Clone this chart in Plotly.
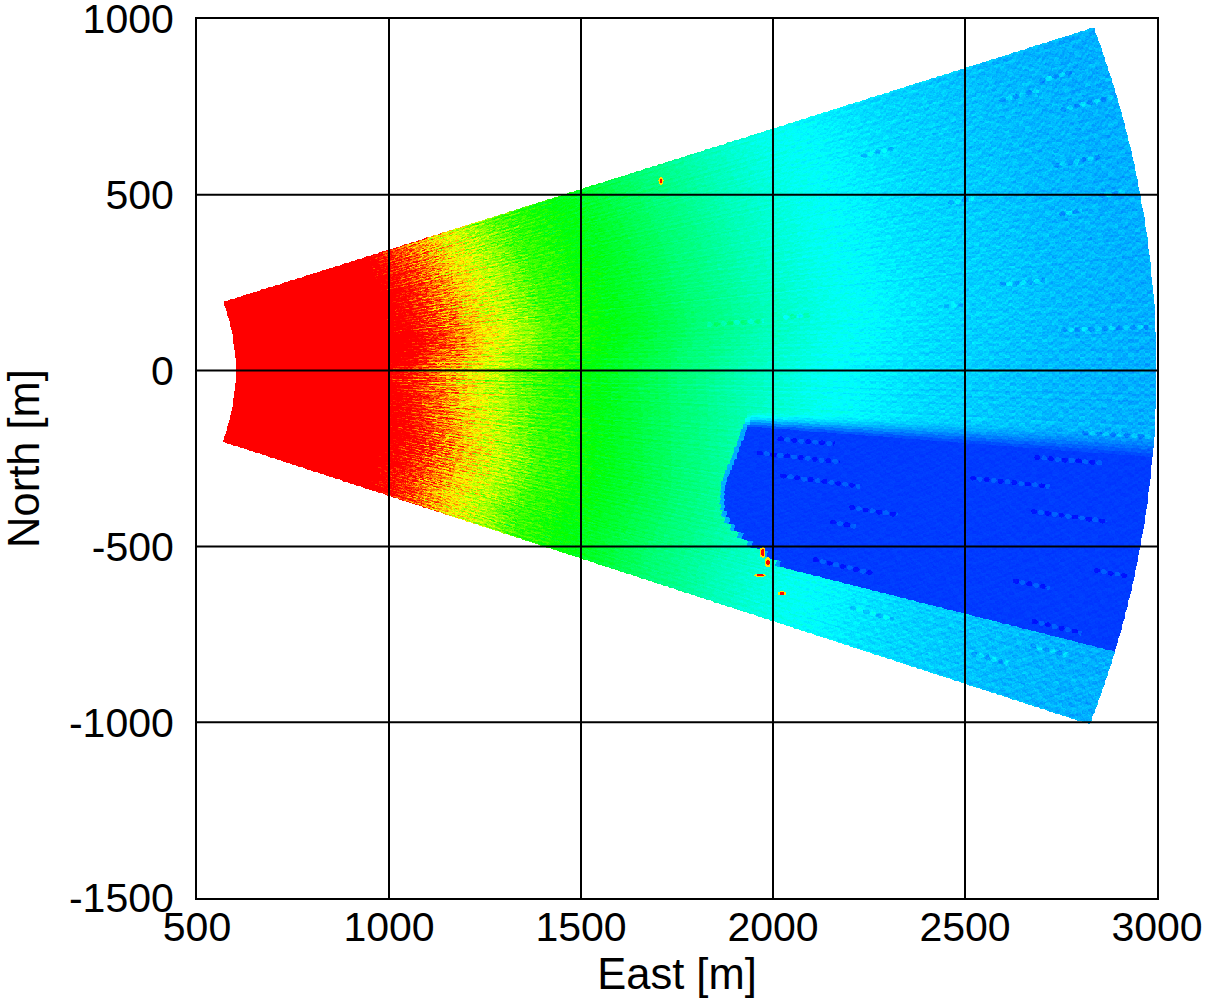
import numpy as np
import plotly.graph_objects as go

# Axis ticks
x_ticks = [500, 1000, 1500, 2000, 2500, 3000]
x_labels = ["500", "1000", "1500", "2000", "2500", "3000"]
y_ticks = [-1500, -1000, -500, 0, 500, 1000]
y_labels = ["-1500", "-1000", "-500", "0", "500", "1000"]

# Sector limits [m, deg]
r_min, r_max = 601, 2998
az_min, az_max = -19.6, 19.0

# Colour level per 25 m range bin, starting at 600 m
range_level = [1.4] * 16 + [
    1.10, 1.06, 1.02, .98, .94, .90, .86, .82, .78, .75, .72, .69, .66, .63, .60, .57, .55, .54, .53, .515,
    .50, .49, .48, .47, .46, .45, .44, .425, .415, .405, .39, .38, .375, .365, .355, .345, .335, .325, .315, .31,
    .30, .292, .285, .278, .27, .265, .26, .255, .25, .245, .24, .235, .23, .226, .222, .218, .215, .211, .208, .206,
    .204, .202, .20, .197, .194, .192, .19, .187, .185, .183, .181, .18, .178, .177, .176, .174, .173, .172, .172, .171, .171]

# Streak and texture strength per 100 m range bin, starting at 600 m
streak_gain = [0, 0, 0, 0, .10, .12, .09, .07, .04, .025, .02, .018, .016, .015, .015, .014, .013, .012, .012, .011, .01, .01, .01, .01, .01]
noise_gain = [0, 0, 0, 0, .09, .10, .08, .06, .045, .03, .02, .016, .014, .014, .016, .017, .019, .021, .023, .025, .026, .026, .026, .026, .026]

# How far the red front reaches (m) per 1 deg azimuth bin, from -20 deg
front_shift = [0, 0, -10, -5, 5, 5, 10, 15, 15, 15, 10, 5, 0, -5, -10, -10, -15, -20, -25, -25,
               -15, 0, 15, 25, 30, 25, 20, 10, 5, 5, 0, 0, -5, -10, -15, -20, -25, -30, -35, -40]

# Radial streak patterns (azimuth bins of 0.125 deg)
streak_a = [.2, -.7, .5, .9, -.3, -.9, .1, .6, -.5, .3, 1.0, -.2, -.8, .4, -.1, .7, -.6, -.4, .8, .0,
            -1.0, .3, .6, -.7, .2, .9, -.5, .1, -.3, .5, -.9, .4, .7, -.2, -.6, .8, .0, -.4, 1.0, -.8,
            .2, .5, -.3, -.7, .6, .1, -1.0, .9, -.1, .3, -.5, .7, -.9, .4, .0, .8, -.6, -.2, .5, -.4, .3]
streak_b = [-.4, .8, -.1, .3, -.9, .5, .6, -.7, .0, .9, -.3, -.5, .2, 1.0, -.8, .1, .4, -.6, .7,
            -.2, -1.0, .5, .3, -.4, .9, -.1, .6, -.7, .2, -.3, .8, -.9, .4, .0, -.5, .7, -.6]

# Texture tiles
tile_a = [[.3, -.8, .5, .1, -.4, .9, -.6], [-.9, .2, .7, -.3, .6, -.1, .4], [.6, -.5, -.2, .8, -.7, .3, .0],
          [-.1, .9, -.6, .4, .2, -.8, .5], [.7, -.3, .1, -.9, .5, .6, -.4], [-.5, .4, .8, -.2, -.7, .0, .9],
          [.2, -.7, -.4, .6, .3, -.5, -.1], [.9, .0, -.8, -.1, .7, .4, -.3], [-.6, .5, .3, -.5, -.2, .8, -.9],
          [.1, -.4, .6, .9, -.8, -.3, .7], [-.2, .8, -.9, .0, .4, .5, -.7]]
tile_b = [[-.6, .4, .9, -.2, .1, -.8, .5, .3, -.4], [.7, -.1, -.5, .6, -.9, .2, .0, -.7, .8],
          [.1, -.9, .3, .8, -.3, .5, -.6, .4, -.2], [-.4, .6, -.7, .0, .9, -.1, .2, -.8, .5],
          [.9, -.3, .2, -.6, .4, .7, -.9, .1, -.5], [-.8, .5, -.2, .3, -.7, .0, .6, -.4, 1.0],
          [.4, .0, .7, -.9, .5, -.5, .3, .8, -.1], [-.3, .8, -.6, .2, -.1, .9, -.7, -.2, .4],
          [.5, -.7, .1, .4, .8, -.4, -.3, .6, -.9], [-.1, .3, -.8, .9, -.5, .2, .7, -.6, .0],
          [.8, -.5, .4, -.3, .0, -.9, .5, .1, .6], [-.7, .1, .6, -.4, .3, .8, -.2, -.9, .2],
          [.2, -.6, -.1, .7, -.8, .4, .9, -.5, -.3]]

# Dark shadow sector: azimuth limits, blend weights and front range per 0.5 deg bin from -15.5 deg
shadow_level = .058
shadow_az = [-15.45, -4.7, -4.5, -4.3, -4.1, -3.9, -3.7, -3.5]
shadow_weight = [1.0, .85, .7, .52, .36, .22, .1]
shadow_front = [2080, 2040, 1995, 1965, 1940, 1922, 1910, 1902, 1898, 1895, 1893, 1892, 1894,
                1897, 1901, 1905, 1909, 1912, 1916, 1920, 1924, 1928, 1932, 1936, 1940]

# Dotted radial features: azimuth [deg], start and end range [m]
dash_az = [-5.5, -6.8, -6.9, -5.25, -8.4, -8.5, -10.0, -11.3, -11.3, -12.8, -14.9, -14.3,
           16.5, 17.0, 15.1, 12.05, 9.2, 15.3, 2.4, -3.6, -17.7, 9.9, 5.4, 11.0, -17.0, -16.3,
           4.1, 4.3, 4.3]
dash_r0 = [2020, 1970, 2530, 2690, 2040, 2700, 2230, 2190, 2890, 2690, 2765, 2170,
           2700, 2815, 2845, 2790, 2780, 2310, 2750, 2810, 2640, 2890, 2600, 2500, 2300, 2780,
           1830, 2030, 2450]
dash_r1 = [2170, 2190, 2740, 2870, 2250, 2900, 2360, 2260, 2980, 2790, 2900, 2330,
           2810, 2905, 2995, 2915, 2840, 2400, 2980, 2990, 2740, 2960, 2720, 2570, 2420, 2880,
           1980, 2100, 2500]

# Small bright returns: east, north [m] and half sizes
speck_x = [1708, 1973, 1986, 1966, 2023, 1129, 1140]
speck_y = [540, -517, -545, -582, -633, 20, 20]
speck_w = [6, 7, 8, 14, 11, 5, 5]
speck_h = [12, 16, 14, 6, 6, 3, 3]

# Display grid
x = np.arange(500, 3001, 2.0)
y = np.arange(-1500, 1001, 2.0)
X, Y = np.meshgrid(x, y)
R = np.hypot(X, Y)
AZ = np.degrees(np.arctan2(Y, X))

az_bin = np.clip(((AZ + 20) // 1).astype(int), 0, len(front_shift) - 1)
R_eff = R - np.array(front_shift)[az_bin]
ri_eff = np.clip(((R_eff - 600) // 25).astype(int), 0, len(range_level) - 1)
V = np.array(range_level)[ri_eff]
hi = np.clip(((R - 600) // 100).astype(int), 0, len(streak_gain) - 1)

ia = ((AZ + 30) / .125).astype(int)
streak = .7 * np.array(streak_a)[ia % len(streak_a)] + .5 * np.array(streak_b)[ia % len(streak_b)]
ta = np.array(tile_a)
tb = np.array(tile_b)
fine = ta[(R // 5).astype(int) % ta.shape[0], ((AZ + 30) / .09).astype(int) % ta.shape[1]]
coarse = tb[(R // 14).astype(int) % tb.shape[0], ((AZ + 30) / .19).astype(int) % tb.shape[1]]
tex = .6 * fine + .7 * coarse
V = V + streak * np.array(streak_gain)[hi] + tex * np.array(noise_gain)[hi]
V = np.where(R < 1000, 1.4, V)

# Shadow
sb = np.clip(np.searchsorted(shadow_az, AZ, side="right") - 1, 0, len(shadow_weight) - 1)
W = np.array(shadow_weight)[sb]
W = np.where((AZ < shadow_az[0]) | (AZ >= shadow_az[-1]), 0, W)
fi = np.clip(((AZ + 15.5) // .5).astype(int), 0, len(shadow_front) - 1)
front = np.array(shadow_front)[fi]
W = np.where(R < front, 0, np.where(R < front + 12, W * .6, W))
V = V * (1 - W) + (shadow_level + .5 * tex * .016) * W

# Dotted features: a chain of round blobs, alternately dark and light
for a, r0, r1 in zip(dash_az, dash_r0, dash_r1):
    k = np.floor((R - r0) / 18)
    rc = r0 + (k + .5) * 18
    d = (((R - rc) / 8) ** 2 + ((AZ - a) * np.radians(1) * R / 7) ** 2) < 1
    m = d & (R >= r0) & (R <= r1)
    delta = np.where(k.astype(int) % 2 == 0, -.04, .035)
    V = np.where(m, V + delta, V)

# Specks
for sx, sy, sw, sh in zip(speck_x, speck_y, speck_w, speck_h):
    e = ((X - sx) / sw) ** 2 + ((Y - sy) / sh) ** 2
    V = np.where(e <= 1, .78, V)
    V = np.where(e <= .35, 1.0, V)

inside = (R >= r_min) & (R <= r_max) & (AZ >= az_min) & (AZ <= az_max)
Z = np.where(inside, np.clip(V, 0, 1), np.nan).astype(np.float32)

fig = go.Figure(go.Heatmap(
    x=x, y=y, z=Z, zmin=0, zmax=1, showscale=False, hoverinfo="skip",
    colorscale=[[0, "rgb(0,0,255)"], [.25, "rgb(0,255,255)"], [.5, "rgb(0,255,0)"],
                [.75, "rgb(255,255,0)"], [1, "rgb(255,0,0)"]],
))

# Grid is drawn above the image, at the tick positions
for t in x_ticks[1:-1]:
    fig.add_shape(type="line", xref="x", yref="paper", x0=t, x1=t, y0=0, y1=1,
                  line=dict(color="black", width=2), layer="above")
for t in y_ticks[1:-1]:
    fig.add_shape(type="line", xref="paper", yref="y", x0=0, x1=1, y0=t, y1=t,
                  line=dict(color="black", width=2), layer="above")

tick_font = dict(family="Liberation Sans", size=41, color="black")
title_font = dict(family="Liberation Sans", size=43.5, color="black")
axis = dict(showgrid=False, zeroline=False, showline=True, mirror=True, linecolor="black", linewidth=2,
            ticks="outside", tickcolor="rgba(0,0,0,0)", tickfont=tick_font, ticklabeloverflow="allow",
            automargin=False)
fig.update_xaxes(range=[500, 3000], tickvals=x_ticks, ticktext=x_labels, ticklen=0, ticklabelstandoff=-8,
                 title=dict(text="East [m]", font=title_font, standoff=1), **axis)
fig.update_yaxes(range=[-1500, 1000], tickvals=y_ticks, ticktext=y_labels, ticklen=13,
                 title=dict(text="North [m]", font=title_font, standoff=18), **axis)
fig.update_layout(width=1208, height=998, paper_bgcolor="white", plot_bgcolor="white",
                  margin=dict(l=197, r=51, t=19, b=100))
fig.write_html("out.html", config={"displayModeBar": False},
               post_script="document.body.style.margin='0';document.documentElement.style.overflow='hidden';")
